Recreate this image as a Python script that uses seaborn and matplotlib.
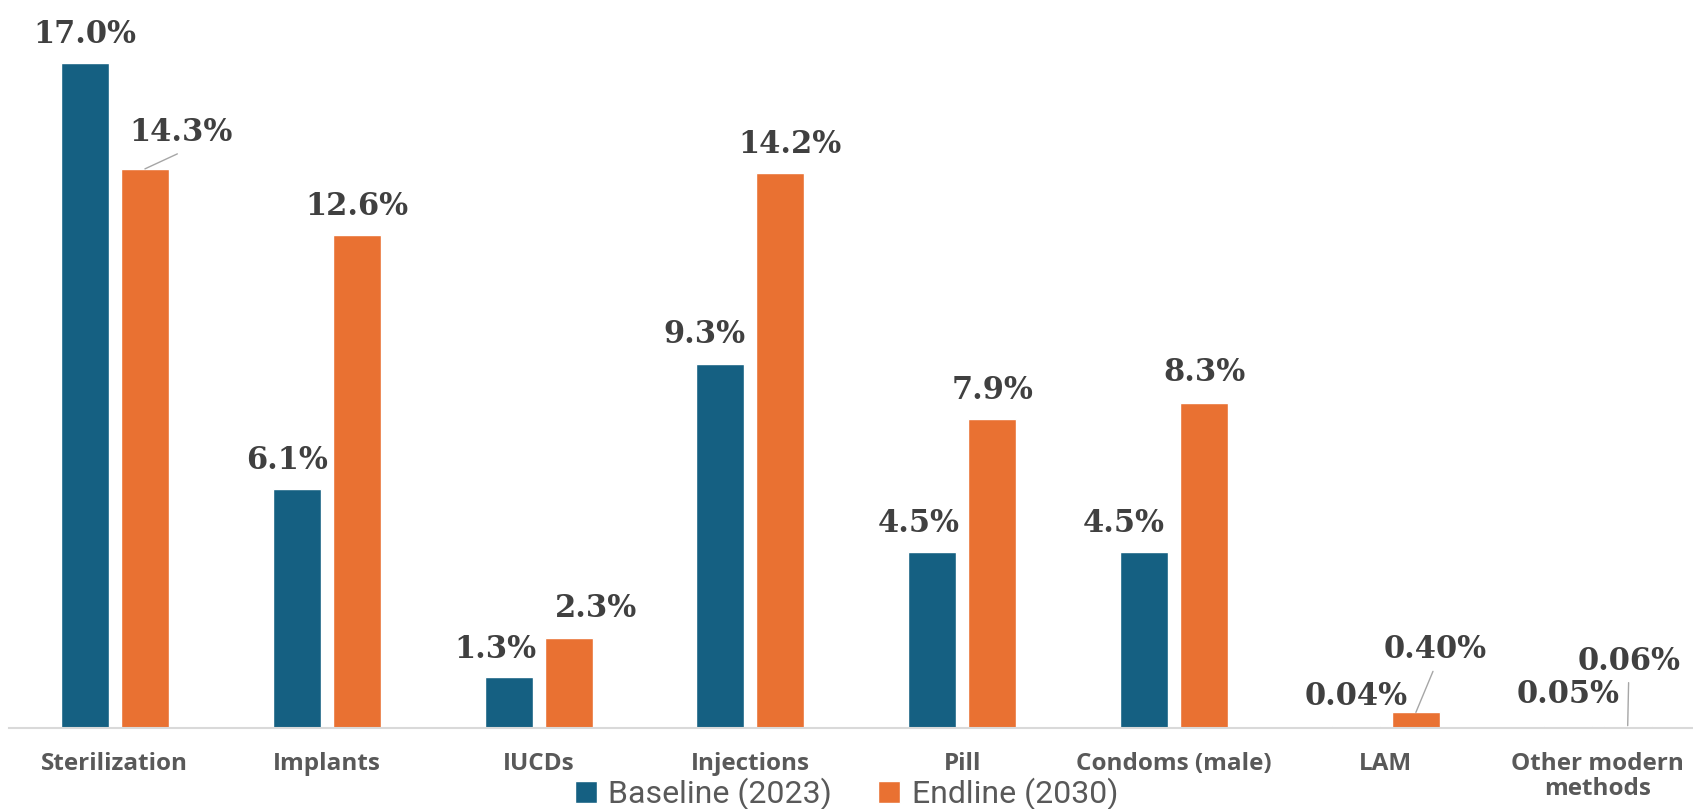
import matplotlib
matplotlib.use("Agg")
import matplotlib.pyplot as plt
import pandas as pd
import seaborn as sns

# data
methods = ["Sterilization", "Implants", "IUCDs", "Injections", "Pill",
           "Condoms (male)", "LAM", "Other modern\nmethods"]
baseline = [17.0, 6.1, 1.3, 9.3, 4.5, 4.5, 0.04, 0.05]
endline = [14.3, 12.6, 2.3, 14.2, 7.9, 8.3, 0.40, 0.06]
baseline_labels = ["17.0%", "6.1%", "1.3%", "9.3%", "4.5%", "4.5%", "0.04%", "0.05%"]
endline_labels = ["14.3%", "12.6%", "2.3%", "14.2%", "7.9%", "8.3%", "0.40%", "0.06%"]
series = ["Baseline (2023)", "Endline (2030)"]
colors = ["#156082", "#E97132"]

# label offsets in pixels (dx, dy) from the top of each bar; True = leader line
base_offsets = [(0, 20, False), (-10, 20, False), (-13, 19, False), (-16, 21, False),
                (-13, 20, False), (-20, 20, False), (0, 21, False), (0, 23, False)]
end_offsets = [(36, 28, True), (0, 20, False), (27, 21, False), (10, 20, False),
               (0, 20, False), (0, 22, False), (19, 54, True), (1, 56, True)]

df = pd.DataFrame({
    "method": methods * 2,
    "value": baseline + endline,
    "series": [series[0]] * len(methods) + [series[1]] * len(methods),
})

sns.set_theme(style="white")
plt.rcParams["font.family"] = ["DejaVu Sans"]

W, H, DPI = 1693, 809, 100
fig = plt.figure(figsize=(W / DPI, H / DPI), dpi=DPI)
ax = fig.add_axes([9 / W, 81 / H, 1684 / W, 680 / H])

sns.barplot(data=df, x="method", y="value", hue="series", palette=colors,
            width=0.567, gap=0.2, saturation=1, ax=ax)

ax.set_xlim(-0.5, 7.45)
ax.set_ylim(0, 680 / 39.1)
ax.set_xlabel("")
ax.set_ylabel("")
ax.set_yticks([])
for side in ["top", "left", "right"]:
    ax.spines[side].set_visible(False)
ax.spines["bottom"].set_color("#D9D9D9")
ax.spines["bottom"].set_linewidth(1.5)
ax.tick_params(axis="x", length=0, pad=17)
for lab in ax.get_xticklabels():
    lab.set_fontfamily("Open Sans")
    lab.set_fontweight("bold")
    lab.set_fontsize(17.5)
    lab.set_color("#595959")
    lab.set_linespacing(1.05)

px = 72 / DPI
for cont, labels, offsets in zip(ax.containers, [baseline_labels, endline_labels],
                                 [base_offsets, end_offsets]):
    for bar, txt, (dx, dy, leader) in zip(cont, labels, offsets):
        x = bar.get_x() + bar.get_width() / 2
        y = bar.get_height()
        ax.annotate(txt, xy=(x, y), xytext=(dx * px, dy * px), textcoords="offset points",
                    ha="center", va="baseline", fontsize=22, fontweight="bold",
                    family="DejaVu Serif", color="#404040")
        if leader:
            ax.annotate("", xy=(x, y), xytext=(dx * 0.9 * px, (dy - 13) * px),
                        textcoords="offset points",
                        arrowprops=dict(arrowstyle="-", color="#A6A6A6", lw=1,
                                        shrinkA=0, shrinkB=0))

sns.move_legend(ax, loc="center", bbox_to_anchor=(0.5, 15 / H),
                bbox_transform=fig.transFigure, ncol=2, frameon=False, title=None,
                fontsize=23, handlelength=0.68, handleheight=0.68, handletextpad=0.36,
                columnspacing=1.45, borderpad=0)
for t in ax.get_legend().get_texts():
    t.set_color("#595959")
    t.set_fontfamily("Roboto")

fig.savefig("out.png", dpi=DPI)
